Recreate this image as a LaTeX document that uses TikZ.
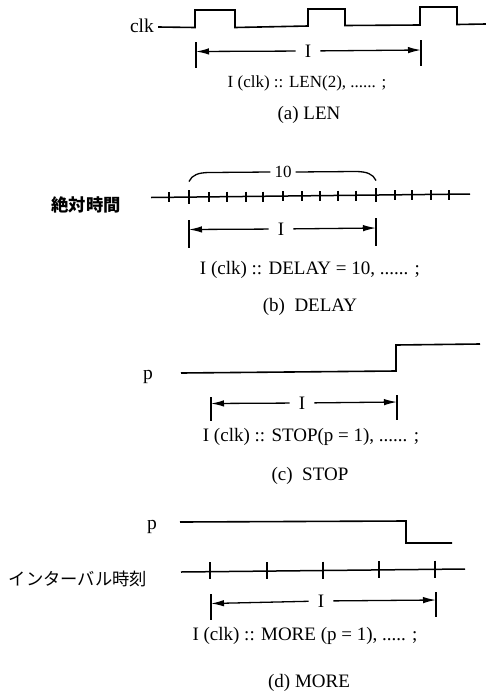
\documentclass[tikz,border=0pt]{standalone}
\usepackage{fontspec}
\setmainfont{Liberation Serif}
\newfontfamily\cjk{Noto Sans CJK JP}
\usetikzlibrary{arrows.meta}
\tikzset{
  wave/.style={line width=1.6pt, line join=miter},
  timeline/.style={line width=1.5pt},
  tickmark/.style={line width=1.1pt},
  spanbar/.style={line width=1.4pt},
  spanarrow/.style={line width=1.3pt, -{Latex[length=13pt,width=6.5pt]}},
  spanlabel/.style={font=\fontsize{19}{21}\selectfont, inner sep=9pt},
  code/.style={font=\fontsize{19}{21}\selectfont, inner sep=0pt},
  caption/.style={font=\fontsize{19}{21}\selectfont, inner sep=0pt},
  sig/.style={font=\fontsize{19.5}{21}\selectfont, inner sep=0pt},
  jplabel/.style={font=\fontsize{17.3}{19}\selectfont\cjk, inner sep=0pt}
}
\begin{document}
\begin{tikzpicture}[x=1pt, y=-1pt]
  \useasboundingbox (0,0) rectangle (486,691);
  % (a) LEN
  \node[sig] (clk) at (142,26) {clk};
  \coordinate (clkend) at (486,24);
  \draw[wave] (clk.east)++(4,1) -- (195,27.5) -- (195,10) -- (235,10) -- (235,27.5) -- (308,26) -- (308,9) -- (345,9) -- (345,25.5) -- (420,25) -- (420,7) -- (457,7) -- (457,24.5) -- (clkend);
  \node[spanlabel] (ia) at (308,51) {I};
  \coordinate (ial) at (196,51.5);
  \coordinate (iar) at (421,50);
  \draw[spanbar] (196,42) -- (196,68) (421,40) -- (421,66);
  \draw[spanarrow] (ia) -- (ial);
  \draw[spanarrow] (ia) -- (iar);
  \node[code, font=\fontsize{17}{19}\selectfont] (codea) at (307,83) {I (clk) :: LEN(2), ...... ;};
  \node[caption] (capa) at (309,115) {(a) LEN};
  % (b) DELAY
  \node[jplabel] (abs) at (86,205) {\bfseries 絶対時間};
  \coordinate (absl) at (151,197.5);
  \coordinate (absr) at (470,194);
  \draw[timeline] (absl) -- (absr);
  \foreach \tx/\ty in {169/197,209/197,227/196.5,246/196.5,263/196.5,283/196,302/196,320/196,338/195.5,356/195.5,395/195,412/195,431/195,449/195}
    \draw[tickmark] (\tx,\ty-5) -- (\tx,\ty+5);
  \draw[spanbar] (189,190) -- (189,204) (376,188) -- (376,202);
  \node[code, font=\fontsize{17}{19}\selectfont, inner sep=4pt] (ten) at (283,172) {10};
  \coordinate (bral) at (189,181.5);
  \coordinate (brar) at (376,180.5);
  \draw[line width=1.3pt] (bral) .. controls (192,175) and (198,172.5) .. (210,172.5) -- (ten.west);
  \draw[line width=1.3pt] (ten.east) -- (355,171.5) .. controls (367,171.5) and (373,174) .. (brar);
  \node[spanlabel] (ib) at (281,229) {I};
  \coordinate (ibl) at (189,229.5);
  \coordinate (ibr) at (376,228);
  \draw[spanbar] (189,220) -- (189,248) (376,218) -- (376,246);
  \draw[spanarrow] (ib) -- (ibl);
  \draw[spanarrow] (ib) -- (ibr);
  \node[code] (codeb) at (310,270) {I (clk) :: DELAY = 10, ...... ;};
  \node[caption] (capb) at (310,307) {(b)\ \ DELAY};
  % (c) STOP
  \node[sig] (pc) at (148,377) {p};
  \coordinate (pcl) at (181,373);
  \coordinate (pcr) at (480,344);
  \draw[wave] (pcl) -- (396,371) -- (396,345) -- (pcr);
  \node[spanlabel] (ic) at (302,403) {I};
  \coordinate (icl) at (211,403.5);
  \coordinate (icr) at (397,402);
  \draw[spanbar] (211,397) -- (211,421) (397,395) -- (397,420);
  \draw[spanarrow] (ic) -- (icl);
  \draw[spanarrow] (ic) -- (icr);
  \node[code] (codec) at (311,437) {I (clk) :: STOP(p = 1), ...... ;};
  \node[caption] (capc) at (310,476) {(c)\ \ STOP};
  % (d) MORE
  \node[sig] (pd) at (152,527) {p};
  \coordinate (pdl) at (180,522);
  \coordinate (pdr) at (452,543);
  \draw[wave] (pdl) -- (406,521) -- (406,543) -- (pdr);
  \node[jplabel] (ivl) at (78,579) {インターバル時刻};
  \coordinate (ivll) at (181,572);
  \coordinate (ivlr) at (465,569);
  \draw[timeline] (ivll) -- (ivlr);
  \foreach \tx/\ty in {210/571,267/571,323/570.5,379/570,435/569.5}
    \draw[tickmark] (\tx,\ty-9) -- (\tx,\ty+8);
  \node[spanlabel] (id) at (321,601) {I};
  \coordinate (idl) at (211,603.5);
  \coordinate (idr) at (436,600);
  \draw[spanbar] (211,594) -- (211,620) (436,592) -- (436,617);
  \draw[spanarrow] (id) -- (idl);
  \draw[spanarrow] (id) -- (idr);
  \node[code] (coded) at (305,636) {I (clk) :: MORE (p = 1), ..... ;};
  \node[caption] (capd) at (309,683) {(d) MORE};
\end{tikzpicture}
\end{document}
